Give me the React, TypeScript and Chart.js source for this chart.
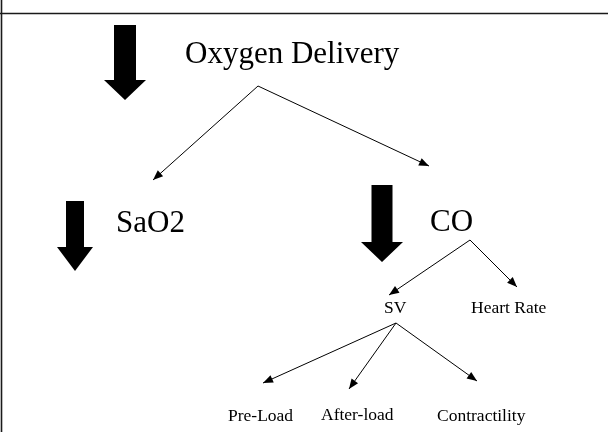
import React, { useEffect, useRef } from "react";
import { Chart, registerables } from "chart.js";

Chart.register(...registerables);

// ---- diagram data (coordinates in a 608 x 432 data space) ----
const nodeLabels = ["Oxygen Delivery", "SaO2", "CO", "SV", "Heart Rate", "Pre-Load", "After-load", "Contractility"];
const nodeX = [185, 116, 430, 384, 471, 228, 321, 437];
const nodeY = [63, 232, 231, 313, 313, 421, 420, 421];
const nodeLevel = [0, 0, 0, 1, 1, 1, 1, 1]; // 0 = large label, 1 = small label

// thin connector arrows: start point -> tip point
const edgeFromX = [258, 258, 470, 470, 396, 396, 396];
const edgeFromY = [86, 86, 240, 240, 323, 323, 323];
const edgeToX = [153, 429, 389, 517, 263, 349, 477];
const edgeToY = [180, 166, 295, 287, 383, 389, 381];

// big block "decrease" arrows
const blockX = [125, 75, 382];
const blockTop = [25, 201, 185];
const blockHeadStart = [80, 247, 242];
const blockTip = [100, 271, 262];
const blockShaftW = [22, 18, 21];
const blockHeadW = [42, 36, 42];

const FONT = '"Liberation Serif", "Times New Roman", serif';

const diagramPlugin = {
  id: "diagram",
  afterDatasetsDraw(chart: any) {
    const ctx: CanvasRenderingContext2D = chart.ctx;
    const xs = chart.scales.x;
    const ys = chart.scales.y;
    const px = (v: number) => xs.getPixelForValue(v);
    const py = (v: number) => ys.getPixelForValue(v);
    ctx.save();

    // frame lines (top and left)
    ctx.strokeStyle = "#1a1a1a";
    ctx.lineWidth = 1.6;
    ctx.beginPath();
    ctx.moveTo(px(0), py(13.5));
    ctx.lineTo(px(608), py(13.5));
    ctx.moveTo(px(1.5), py(0));
    ctx.lineTo(px(1.5), py(432));
    ctx.stroke();

    // arrowheads on thin connectors
    ctx.fillStyle = "#000";
    for (let i = 0; i < edgeToX.length; i++) {
      const x1 = px(edgeFromX[i]), y1 = py(edgeFromY[i]);
      const x2 = px(edgeToX[i]), y2 = py(edgeToY[i]);
      const a = Math.atan2(y2 - y1, x2 - x1);
      const len = 10, half = 4;
      const bx = x2 - len * Math.cos(a), by = y2 - len * Math.sin(a);
      ctx.beginPath();
      ctx.moveTo(x2, y2);
      ctx.lineTo(bx + half * Math.sin(a), by - half * Math.cos(a));
      ctx.lineTo(bx - half * Math.sin(a), by + half * Math.cos(a));
      ctx.closePath();
      ctx.fill();
    }

    // block arrows
    for (let i = 0; i < blockX.length; i++) {
      const cx = px(blockX[i]);
      const sw = blockShaftW[i] / 2, hw = blockHeadW[i] / 2;
      ctx.beginPath();
      ctx.moveTo(cx - sw, py(blockTop[i]));
      ctx.lineTo(cx + sw, py(blockTop[i]));
      ctx.lineTo(cx + sw, py(blockHeadStart[i]));
      ctx.lineTo(cx + hw, py(blockHeadStart[i]));
      ctx.lineTo(cx, py(blockTip[i]));
      ctx.lineTo(cx - hw, py(blockHeadStart[i]));
      ctx.lineTo(cx - sw, py(blockHeadStart[i]));
      ctx.closePath();
      ctx.fill();
    }

    // labels
    ctx.textAlign = "left";
    ctx.textBaseline = "alphabetic";
    for (let i = 0; i < nodeLabels.length; i++) {
      ctx.font = nodeLevel[i] === 0 ? `31px ${FONT}` : `17.5px ${FONT}`;
      ctx.fillText(nodeLabels[i], px(nodeX[i]), py(nodeY[i]));
    }
    ctx.restore();
  },
};

export default function App() {
  const ref = useRef<HTMLCanvasElement | null>(null);
  useEffect(() => {
    if (!ref.current) return;
    const datasets = edgeToX.map((_, i) => ({
      label: `edge${i}`,
      data: [
        { x: edgeFromX[i], y: edgeFromY[i] },
        { x: edgeToX[i], y: edgeToY[i] },
      ],
      showLine: true,
      borderColor: "#000",
      borderWidth: 1,
      pointRadius: 0,
      pointHoverRadius: 0,
    }));
    const chart = new Chart(ref.current, {
      type: "scatter",
      data: { datasets },
      options: {
        responsive: false,
        animation: false,
        events: [],
        layout: { padding: 0 },
        plugins: { legend: { display: false }, tooltip: { enabled: false }, title: { display: false } },
        scales: {
          x: { type: "linear", min: 0, max: 608, display: false },
          y: { type: "linear", min: 0, max: 432, reverse: true, display: false },
        },
      },
      plugins: [diagramPlugin],
    });
    return () => chart.destroy();
  }, []);
  return (
    <div style={{ position: "fixed", left: 0, top: 0, width: 608, height: 432, background: "#fff" }}>
      <canvas ref={ref} width={608} height={432} style={{ display: "block" }} />
    </div>
  );
}
